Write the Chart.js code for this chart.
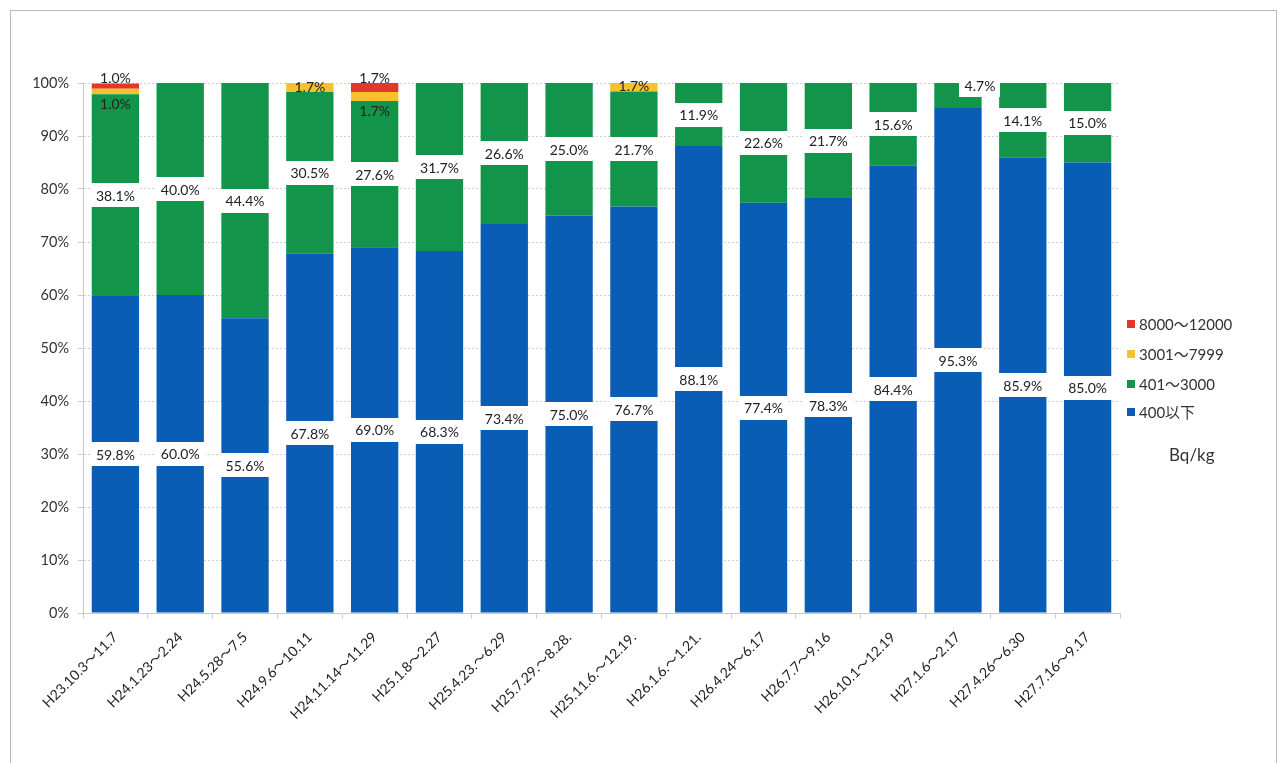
<!DOCTYPE html>
<html>
<head>
<meta charset="utf-8">
<script src="https://cdn.jsdelivr.net/npm/chart.js@4.4.0/dist/chart.umd.min.js"></script>
<style>
  body { margin: 0; background: #fff; }
  canvas { display: block; }
</style>
</head>
<body>
<canvas id="chart" width="1283" height="763"></canvas>
<script>
// categories (sampling periods)
const periods = ['H23.10.3～11.7', 'H24.1.23～2.24', 'H24.5.28～7.5', 'H24.9.6～10.11', 'H24.11.14～11.29',
  'H25.1.8～2.27', 'H25.4.23.～6.29', 'H25.7.29.～8.28.', 'H25.11.6.～12.19.', 'H26.1.6.～1.21.',
  'H26.4.24～6.17', 'H26.7.7～9.16', 'H26.10.1～12.19', 'H27.1.6～2.17', 'H27.4.26～6.30', 'H27.7.16～9.17'];

// share of samples per range (%)
const under400  = [59.8, 60.0, 55.6, 67.8, 69.0, 68.3, 73.4, 75.0, 76.7, 88.1, 77.4, 78.3, 84.4, 95.3, 85.9, 85.0];
const r401_3000 = [38.1, 40.0, 44.4, 30.5, 27.6, 31.7, 26.6, 25.0, 21.7, 11.9, 22.6, 21.7, 15.6, 4.7, 14.1, 15.0];
const r3001_7999 = [1.0, 0, 0, 1.7, 1.7, 0, 0, 0, 1.7, 0, 0, 0, 0, 0, 0, 0];
const r8000_12000 = [1.0, 0, 0, 0, 1.7, 0, 0, 0, 0, 0, 0, 0, 0, 0, 0, 0];

const seriesNames = ['400以下', '401～3000', '3001～7999', '8000～12000'];
const seriesColors = ['#0a5db4', '#12954a', '#f6c12c', '#e2382b'];
const yTicks = [0, 10, 20, 30, 40, 50, 60, 70, 80, 90, 100];

const FONT = 'Lato, "Noto Sans CJK JP", sans-serif';

// data labels, legend, frame
const extras = {
  id: 'extras',
  afterDatasetsDraw(chart) {
    const ctx = chart.ctx;
    ctx.save();
    ctx.font = '14px ' + FONT;
    ctx.textAlign = 'center';
    ctx.textBaseline = 'middle';
    chart.data.datasets.forEach((ds, di) => {
      const meta = chart.getDatasetMeta(di);
      meta.data.forEach((bar, i) => {
        const v = ds.data[i];
        if (!v) return;
        const txt = v.toFixed(1) + '%';
        const cy = (bar.y + bar.base) / 2;
        if (di >= 2) {
          // small segments: plain text, no box
          let ty = cy;
          const both = r3001_7999[i] && r8000_12000[i];
          if (both) ty = di === 3 ? bar.y - 5 : bar.base + 10;
          ctx.fillStyle = '#222';
          ctx.fillText(txt, bar.x, ty);
          return;
        }
        let bx = bar.x, by = cy;
        if (v < 6) { bx = bar.x + 22; by = bar.y + 2; }
        const w = Math.round(ctx.measureText(txt).width + 10);
        const h = 24;
        ctx.fillStyle = '#fff';
        ctx.fillRect(Math.round(bx - w / 2), Math.round(by - h / 2), w, h);
        ctx.fillStyle = '#222';
        ctx.fillText(txt, bx, by + 1);
      });
    });

    // legend (top item = last series)
    const lx = 1131;
    const ly = [324, 354, 384, 412];
    ctx.textAlign = 'left';
    ctx.font = '15px ' + FONT;
    for (let k = 0; k < 4; k++) {
      const si = 3 - k;
      ctx.fillStyle = seriesColors[si];
      ctx.fillRect(lx - 4, ly[k] - 4, 8, 8);
      ctx.fillStyle = '#333';
      ctx.fillText(seriesNames[si], lx + 8, ly[k] + 1);
    }
    ctx.font = '17px ' + FONT;
    ctx.fillText('Bq/kg', 1169, 456);

    // scanned page frame
    ctx.strokeStyle = '#b8b8b8';
    ctx.lineWidth = 1;
    ctx.strokeRect(10.5, 10.5, 1266, 760);
    ctx.restore();
  }
};

new Chart(document.getElementById('chart'), {
  type: 'bar',
  data: {
    labels: periods,
    datasets: [under400, r401_3000, r3001_7999, r8000_12000].map((d, i) => ({
      label: seriesNames[i],
      data: d,
      backgroundColor: seriesColors[i],
      borderWidth: 0,
      barPercentage: 0.73,
      categoryPercentage: 1.0
    }))
  },
  options: {
    responsive: false,
    animation: false,
    devicePixelRatio: 1,
    layout: { padding: { left: 0, top: 83, right: 163, bottom: 0 } },
    plugins: {
      legend: { display: false },
      tooltip: { enabled: false }
    },
    scales: {
      x: {
        stacked: true,
        afterFit: (s) => { s.height = 150; },
        grid: { display: true, drawOnChartArea: false, tickLength: 6, color: '#d0d0d0', offset: true },
        border: { color: '#c8c8c8' },
        ticks: {
          maxRotation: 45, minRotation: 45, autoSkip: false, padding: 10,
          color: '#222', font: { family: FONT, size: 14 }
        }
      },
      y: {
        stacked: true,
        min: 0, max: 100,
        afterFit: (s) => { s.width = 83; },
        afterBuildTicks: (s) => { s.ticks = yTicks.map(v => ({ value: v })); },
        grid: { color: '#cfcfcf', tickLength: 5, borderDash: [2, 2] },
        border: { color: '#c8c8c8', dash: [2, 2] },
        ticks: {
          padding: 9, color: '#333', font: { family: FONT, size: 14.5 },
          callback: (v) => v + '%'
        }
      }
    }
  },
  plugins: [extras]
});
</script>
</body>
</html>
